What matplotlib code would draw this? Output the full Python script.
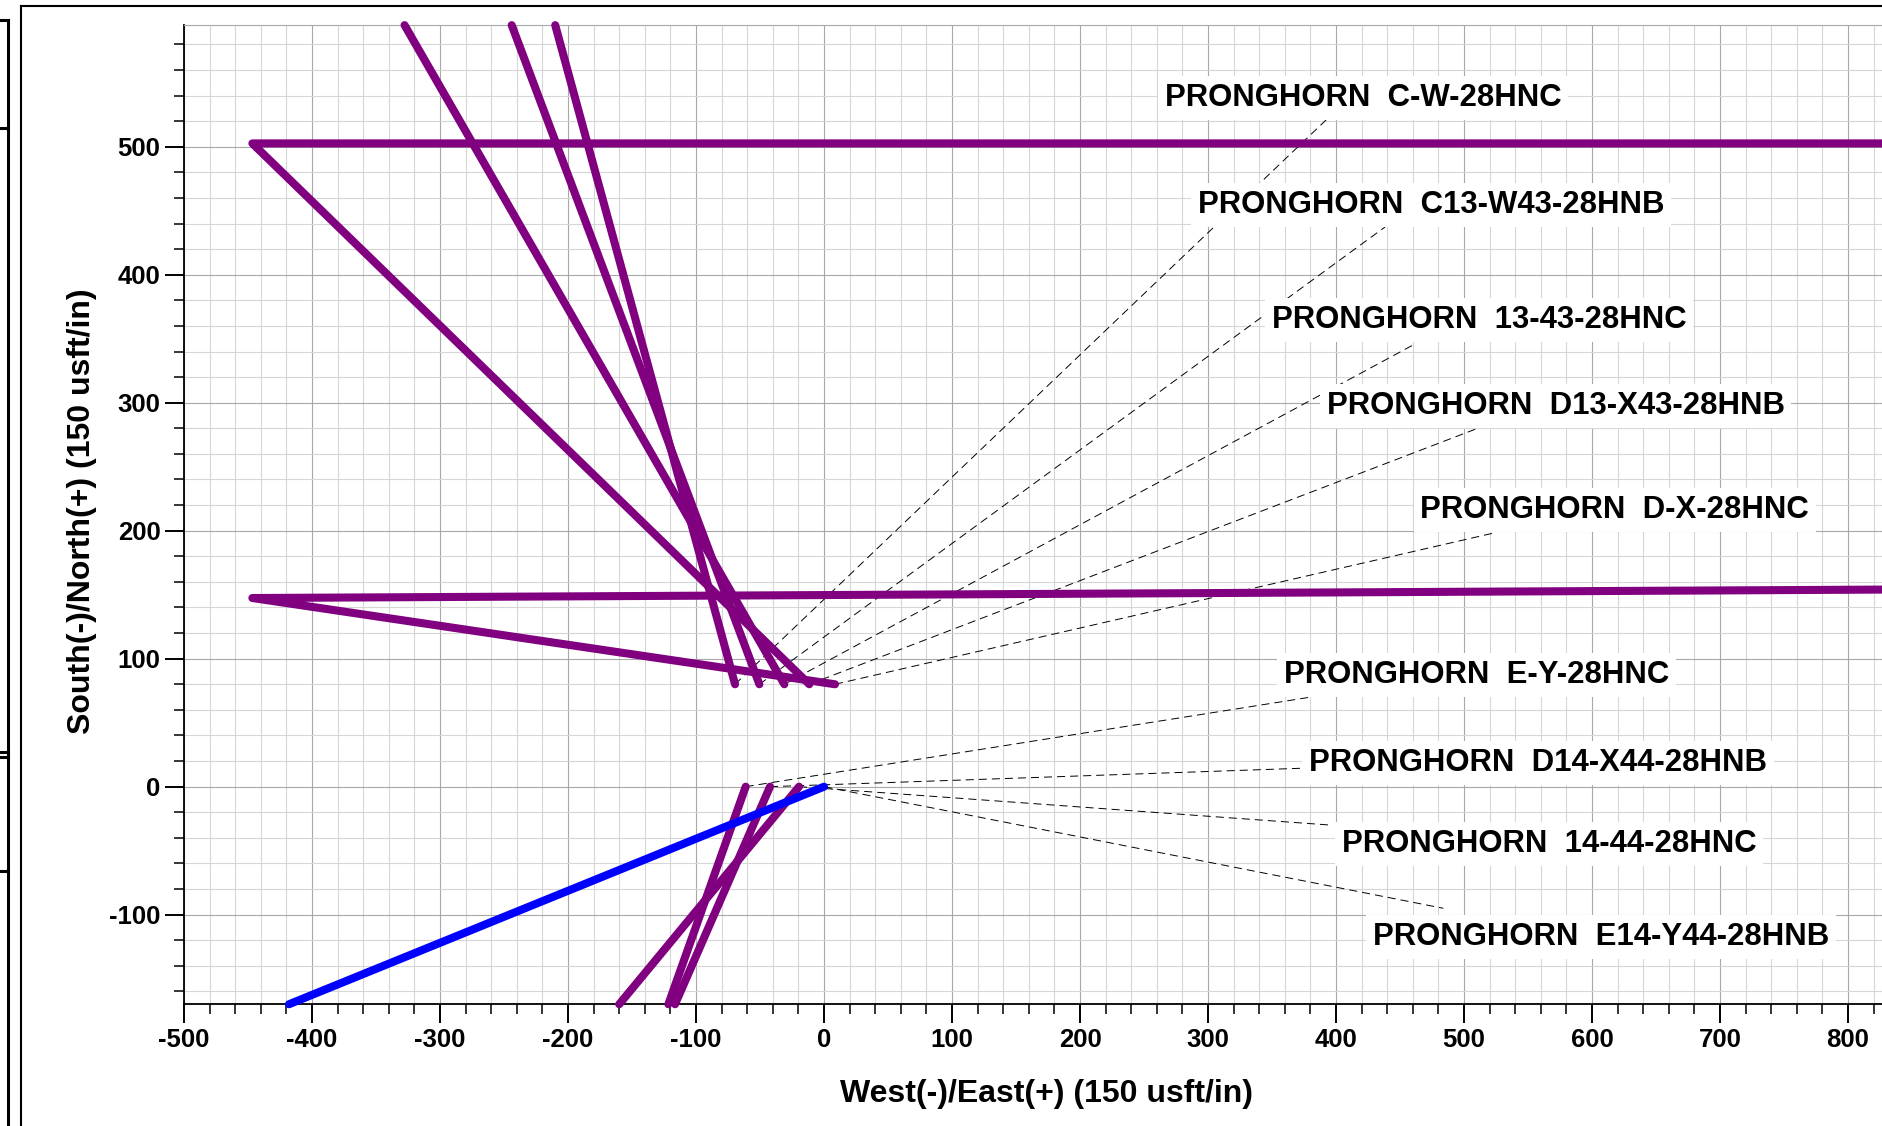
import numpy as np
import matplotlib
matplotlib.use('Agg')
import matplotlib.pyplot as plt
from matplotlib.lines import Line2D
from matplotlib.ticker import MultipleLocator

plt.rcParams['font.family'] = ['Liberation Sans', 'DejaVu Sans']
plt.rcParams['font.weight'] = 'bold'
plt.rcParams['axes.unicode_minus'] = False
plt.rcParams['lines.scale_dashes'] = False

PURPLE = '#800080'
BLUE = '#0000ff'

# plan view well paths, East(+)/West(-) and North(+)/South(-) in usft
# upper pad, surface holes near N=80
cw_e, cw_n = [-69.5, -210.0], [80.0, 595.0]
c13_e, c13_n = [-50.5, -244.0], [80.0, 595.0]
p1343_e, p1343_n = [-31.0, -327.7], [80.0, 595.0]
d13_e, d13_n = [-11.5, -446.6, 830.0], [80.0, 502.6, 502.6]
dx_e, dx_n = [8.6, -446.6, 830.0], [80.0, 147.4, 154.0]
# lower pad, surface holes at N=0
ey_e, ey_n = [-61.2, -121.6], [0.0, -170.0]
d14_e, d14_n = [-42.2, -116.4], [0.0, -170.0]
p1444_e, p1444_n = [-19.5, -160.0], [0.0, -170.0]
e14_e, e14_n = [0.0, -418.0], [0.0, -170.0]

names = ['PRONGHORN  C-W-28HNC', 'PRONGHORN  C13-W43-28HNB', 'PRONGHORN  13-43-28HNC',
         'PRONGHORN  D13-X43-28HNB', 'PRONGHORN  D-X-28HNC', 'PRONGHORN  E-Y-28HNC',
         'PRONGHORN  D14-X44-28HNB', 'PRONGHORN  14-44-28HNC', 'PRONGHORN  E14-Y44-28HNB']
paths = [(cw_e, cw_n), (c13_e, c13_n), (p1343_e, p1343_n), (d13_e, d13_n), (dx_e, dx_n),
         (ey_e, ey_n), (d14_e, d14_n), (p1444_e, p1444_n), (e14_e, e14_n)]
colors = [PURPLE] * 8 + [BLUE]

# leader line end points (near each label)
lead_e = [392.2, 438.3, 460.2, 510.7, 524.2, 379.1, 373.2, 394.1, 483.8]
lead_n = [520.9, 437.3, 345.1, 280.0, 198.4, 69.8, 14.4, -29.9, -95.0]

xticks = np.arange(-500, 801, 100)
yticks = np.arange(-100, 501, 100)

fig = plt.figure(figsize=(18.83, 11.26), dpi=100)
W, H = 1883.0, 1126.0
ax = fig.add_axes([184 / W, 1 - 1004 / H, 1 - 184 / W, (1004 - 25) / H])
ax.set_xlim(-500, 827.3)
ax.set_ylim(-169.8, 595.1)

ax.xaxis.set_major_locator(MultipleLocator(100))
ax.xaxis.set_minor_locator(MultipleLocator(20))
ax.yaxis.set_major_locator(MultipleLocator(100))
ax.yaxis.set_minor_locator(MultipleLocator(20))
ax.set_xticks(xticks)
ax.set_yticks(yticks)
ax.grid(True, which='minor', color='#d6d6d6', lw=0.8)
ax.grid(True, which='major', color='#a8a8a8', lw=0.8)
ax.set_axisbelow(True)

ax.tick_params(which='major', direction='out', length=14, width=1.4, labelsize=18.5, pad=3)
ax.tick_params(which='minor', direction='out', length=7, width=1.1)
ax.tick_params(top=False, right=False, which='both')
for lab in ax.get_xticklabels() + ax.get_yticklabels():
    lab.set_fontweight('bold')

ax.spines['right'].set_visible(False)
ax.spines['top'].set_color('#a8a8a8')
ax.spines['top'].set_linewidth(0.8)
for s in ('left', 'bottom'):
    ax.spines[s].set_linewidth(1.3)

ax.set_xlabel('West(-)/East(+) (150 usft/in)', fontsize=23, fontweight='bold')
ax.set_ylabel('South(-)/North(+) (150 usft/in)', fontsize=23, fontweight='bold')
ax.xaxis.set_label_coords(0.5077, -0.0766)
ax.yaxis.set_label_coords(-0.0513, 0.503)

# leaders from surface holes to the labels
for (pe, pn), le, ln in zip(paths, lead_e, lead_n):
    ax.plot([pe[0], le], [pn[0], ln], color='black', lw=0.7, dashes=(5.8, 3.6), zorder=3)

# well paths
for (pe, pn), c in zip(paths, colors):
    ax.plot(pe, pn, color=c, lw=5.8, solid_capstyle='round', solid_joinstyle='round',
            zorder=5, clip_on=False)

# labels (left edge / baseline)
label_e = [266.4, 292.2, 349.8, 392.6, 465.9, 359.1, 379.1, 404.5, 428.5]
label_n = [531.8, 448.4, 358.6, 291.2, 209.7, 80.8, 12.5, -50.8, -123.7]
for name, x, y in zip(names, label_e, label_n):
    ax.text(x, y, name, fontsize=22.4, fontweight='bold', ha='left', va='baseline',
            zorder=4, bbox=dict(facecolor='white', edgecolor='none', pad=5))

# sheet frame and cut-off side panels
def px_line(xs, ys, lw):
    fig.add_artist(Line2D([x / W for x in xs], [1 - y / H for y in ys],
                          color='black', lw=lw, transform=fig.transFigure))

px_line([21, 21], [6, 1126], 1.5)
px_line([21, 1883], [6, 6], 1.5)
px_line([8.5, 8.5], [20, 1126], 2.2)
for yy in (20, 128, 752, 757, 871):
    px_line([0, 8.5], [yy, yy], 2.2)

fig.savefig('out.png', dpi=100)
